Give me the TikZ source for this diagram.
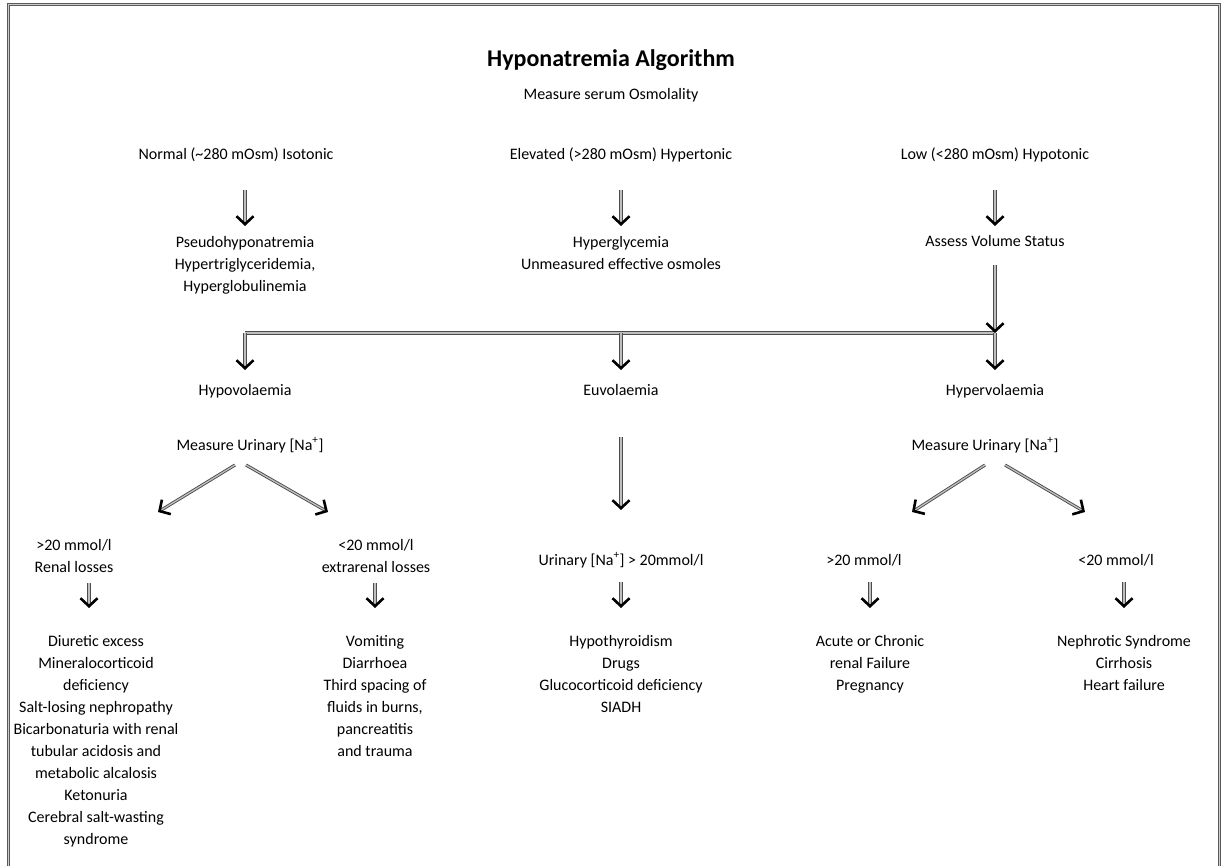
\documentclass[tikz,border=0pt]{standalone}
\usepackage{fontspec}
\setmainfont{Carlito}
\usetikzlibrary{arrows.meta,decorations.markings,calc}

\tikzset{
  txt/.style={align=center, font=\fontsize{16}{22}\selectfont, inner sep=0pt, anchor=base},
  lst/.style={txt, anchor=north},
  ttl/.style={font=\fontsize{24}{26}\selectfont\bfseries, inner sep=0pt, anchor=base},
  shaft/.style={draw=black!70, double=black!25, double distance=1.3pt, line width=0.9pt},
  dbl/.style={shaft, shorten >=3pt, postaction={decorate},
    decoration={markings, mark=at position 1 with {\arrow[black, line width=2.6pt]{Straight Barb[length=8pt, width=17pt]}}}},
  frm/.style={draw=black!65, double=black!20, double distance=1pt, line width=1pt},
}

\begin{document}
\begin{tikzpicture}[x=1pt, y=-1pt]
  \useasboundingbox (0,0) rectangle (1222,866);
  % frame, open at the bottom
  \draw[frm] (8,880) -- (8,5) -- (1219,5) -- (1219,880);

  % top
  \node[ttl] (title) at (611,67) {Hyponatremia Algorithm};
  \node[txt] (osm) at (611,100) {Measure serum Osmolality};

  % three osmolality branches
  \node[txt] (iso) at (236,160) {Normal (\textasciitilde280 mOsm) Isotonic};
  \node[txt] (hyper) at (621,160) {Elevated (>280 mOsm) Hypertonic};
  \node[txt] (hypo) at (995,160) {Low (<280 mOsm) Hypotonic};

  \node[lst] (pseudo) at (245,236) {Pseudohyponatremia\\Hypertriglyceridemia,\\Hyperglobulinemia};
  \node[lst] (glyc) at (621,236) {Hyperglycemia\\Unmeasured effective osmoles};
  \node[txt] (assess) at (995,247) {Assess Volume Status};

  \draw[dbl] ($(iso.base -| pseudo.north)+(0,30)$) -- ($(pseudo.north)+(0,-10)$);
  \draw[dbl] ($(hyper.base)+(0,30)$) -- ($(glyc.north)+(0,-10)$);
  \draw[dbl] ($(hypo.base)+(0,30)$) -- ($(assess.base)+(0,-21)$);

  % volume status
  \node[txt] (hypov) at (245,395) {Hypovolaemia};
  \node[txt] (euv) at (621,395) {Euvolaemia};
  \node[txt] (hyperv) at (995,395) {Hypervolaemia};

  \coordinate (jn) at ($(assess.base)+(0,86)$);
  \draw[shaft] (jn -| hypov.base) -- (jn);
  \draw[dbl] ($(assess.base)+(0,18)$) -- (jn);
  \draw[dbl] (jn -| hypov.base) -- ($(hypov.base)+(0,-25)$);
  \draw[dbl] (jn -| euv.base) -- ($(euv.base)+(0,-25)$);
  \draw[dbl] (jn) -- ($(hyperv.base)+(0,-25)$);

  % urinary sodium
  \node[txt] (unaL) at (250,450) {Measure Urinary [Na\textsuperscript{+}]};
  \node[txt] (unaR) at (985,450) {Measure Urinary [Na\textsuperscript{+}]};
  \node[lst] (renal) at (74,539) {>20 mmol/l\\Renal losses};
  \node[lst] (extra) at (376,539) {<20 mmol/l\\extrarenal losses};
  \node[txt] (unaE) at (621,565) {Urinary [Na\textsuperscript{+}] > 20mmol/l};
  \node[txt] (gtR) at (864,565) {>20 mmol/l};
  \node[txt] (ltR) at (1116,565) {<20 mmol/l};

  \draw[dbl] ($(euv.base)+(0,42)$) -- ($(unaE.base)+(0,-55)$);
  \draw[dbl] ($(unaL.base)+(-15,15)$) -- ($(renal.north)+(84,-27)$);
  \draw[dbl] ($(unaL.base)+(-4,15)$) -- ($(extra.north)+(-48,-27)$);
  \draw[dbl] ($(unaR.base)+(0,15)$) -- ($(gtR.base)+(48,-53)$);
  \draw[dbl] ($(unaR.base)+(20,15)$) -- ($(ltR.base)+(-31,-53)$);

  % causes
  \node[lst] (diur) at (96,635) {Diuretic excess\\Mineralocorticoid\\deficiency\\Salt-losing nephropathy\\Bicarbonaturia with renal\\tubular acidosis and\\metabolic alcalosis\\Ketonuria\\Cerebral salt-wasting\\syndrome};
  \node[lst] (vom) at (375,635) {Vomiting\\Diarrhoea\\Third spacing of\\fluids in burns,\\pancreatitis\\and trauma};
  \node[lst] (thyro) at (621,635) {Hypothyroidism\\Drugs\\Glucocorticoid deficiency\\SIADH};
  \node[lst] (acute) at (870,635) {Acute or Chronic\\renal Failure\\Pregnancy};
  \node[lst] (nephr) at (1124,635) {Nephrotic Syndrome\\Cirrhosis\\Heart failure};

  \draw[dbl] ($(renal.south)+(15,10)$) -- ($(diur.north)+(-7,-27)$);
  \draw[dbl] ($(extra.south -| vom.north)+(0,10)$) -- ($(vom.north)+(0,-27)$);
  \draw[dbl] ($(unaE.base -| thyro.north)+(0,17)$) -- ($(thyro.north)+(0,-27)$);
  \draw[dbl] ($(gtR.base -| acute.north)+(0,17)$) -- ($(acute.north)+(0,-27)$);
  \draw[dbl] ($(ltR.base -| nephr.north)+(0,17)$) -- ($(nephr.north)+(0,-27)$);
\end{tikzpicture}
\end{document}
